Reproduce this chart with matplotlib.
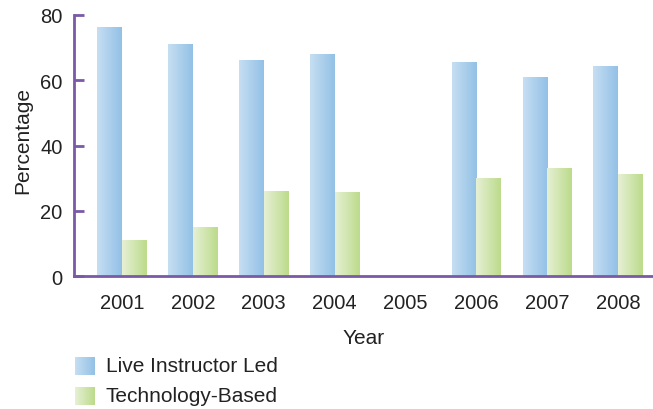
import numpy as np
import matplotlib
matplotlib.use('Agg')
import matplotlib.pyplot as plt
from matplotlib.colors import LinearSegmentedColormap

plt.rcParams['font.family'] = ['Liberation Sans', 'DejaVu Sans']

years = ['2001', '2002', '2003', '2004', '2005', '2006', '2007', '2008']
live = [76, 71, 66, 68, np.nan, 65.3, 60.7, 64.1]
tech = [11, 15, 26, 25.5, np.nan, 29.8, 32.8, 31]
series_names = ['Live Instructor Led', 'Technology-Based']

blue = LinearSegmentedColormap.from_list('b', ['#c6def2', '#93c1e6'])
green = LinearSegmentedColormap.from_list('g', ['#e6f0d4', '#bcdb8b'])
purple = '#7a5aa6'
txt = '#222222'
grad = np.linspace(0, 1, 64).reshape(1, -1)

fig = plt.figure(figsize=(6.53, 4.10), dpi=100)
ax = fig.add_axes([0.113, 0.324, 0.887, 0.637])

w = 0.35
x = np.arange(len(years))
for vals, off, cm in [(live, -w / 2, blue), (tech, w / 2, green)]:
    for xi, v in zip(x, vals):
        if np.isnan(v):
            continue
        ax.imshow(grad, cmap=cm, aspect='auto', interpolation='bilinear',
                  extent=(xi + off - w / 2, xi + off + w / 2, 0, v), zorder=2)

ax.set_xlim(-0.68, 7.49)
ax.set_ylim(0, 80)
ax.set_yticks([0, 20, 40, 60, 80])
ax.set_xticks(x)
ax.set_xticklabels(years)
ax.tick_params(axis='x', length=0, pad=12, labelsize=14.5, colors=txt)
ax.tick_params(axis='y', direction='in', length=7, width=2, color=purple,
               pad=8, labelsize=14.5, labelcolor=txt)
for s in ['top', 'right']:
    ax.spines[s].set_visible(False)
for s in ['left', 'bottom']:
    ax.spines[s].set_color(purple)
    ax.spines[s].set_linewidth(2)
ax.set_ylabel('Percentage', fontsize=15, color=txt)
ax.yaxis.set_label_coords(-0.071, 0.525)
ax.set_xlabel('Year', fontsize=15, color=txt, labelpad=12)

# legend swatches
for i, (name, cm) in enumerate(zip(series_names, [blue, green])):
    y0 = 1 - (376 + 30 * i) / 410
    sax = fig.add_axes([75 / 653, y0, 20 / 653, 18 / 410])
    sax.imshow(grad, cmap=cm, aspect='auto', interpolation='bilinear')
    sax.axis('off')
    fig.text(106 / 653, 1 - (367 + 30 * i) / 410, name, fontsize=15,
             color=txt, va='center', ha='left')

fig.savefig('out.png', dpi=100)
plt.close(fig)
